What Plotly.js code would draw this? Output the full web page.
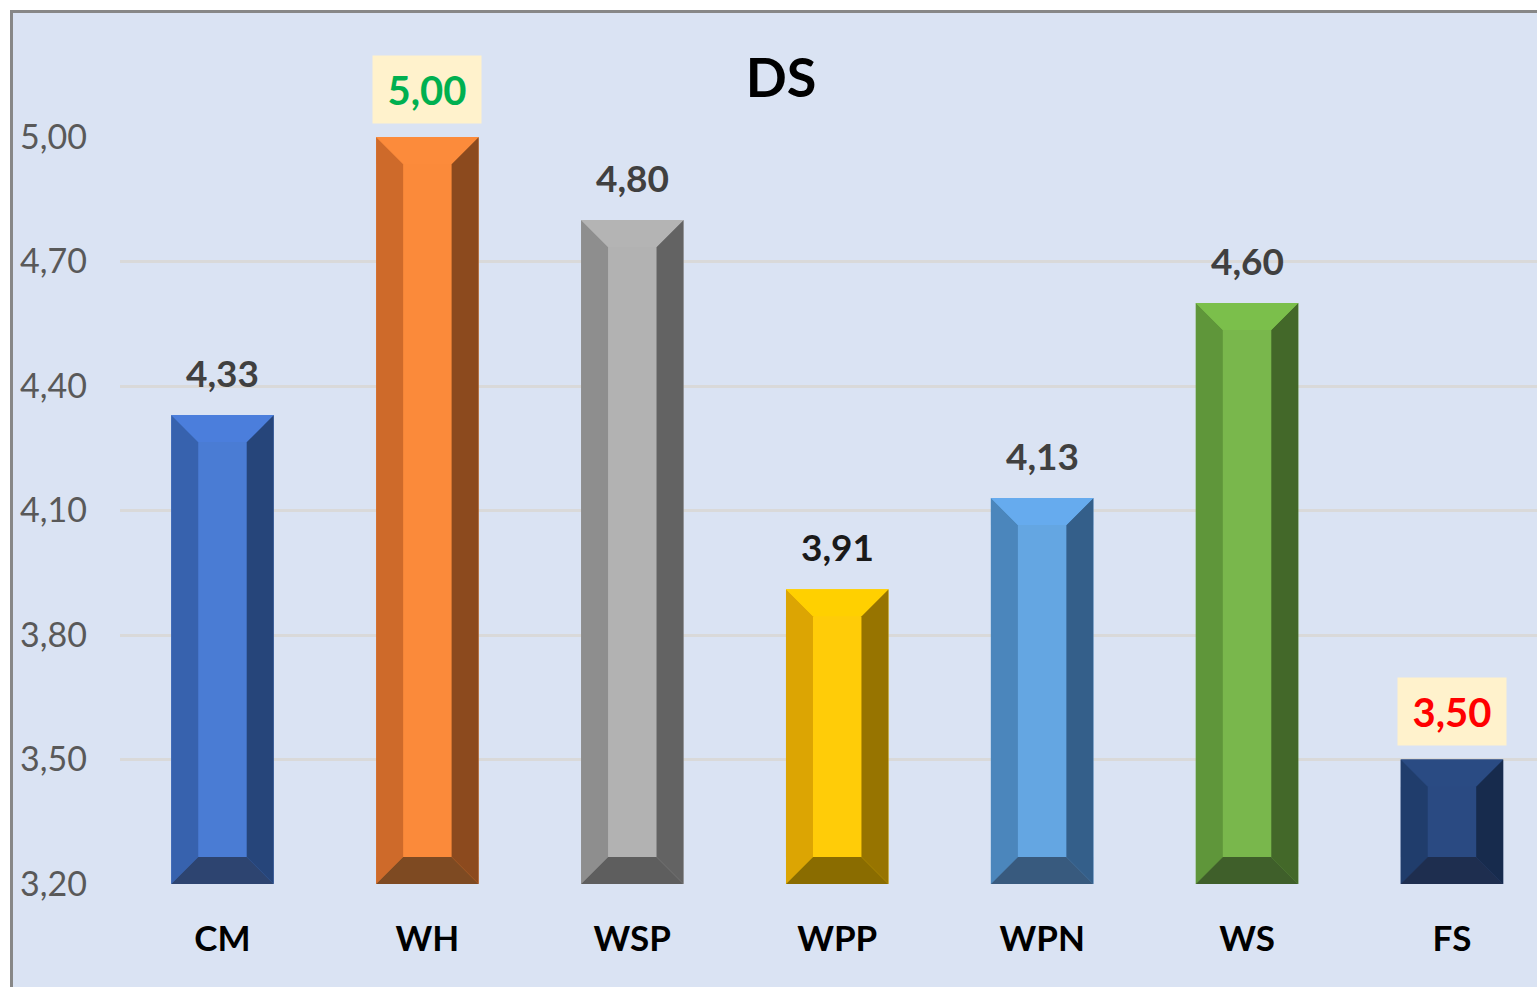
<!DOCTYPE html>
<html>
<head>
<meta charset="utf-8">
<script src="https://cdn.plot.ly/plotly-3.0.1.min.js"></script>
<style>
  html, body { margin: 0; padding: 0; background: #ffffff; width: 1537px; height: 987px; overflow: hidden; }
  #frame { position: absolute; left: 10px; top: 10px; width: 1527px; height: 977px;
           border-left: 3px solid #878787; border-top: 3px solid #878787; background: #DAE3F3; overflow: hidden; }
  #chart { width: 1524px; height: 974px; }
</style>
</head>
<body>
<div id="frame"><div id="chart"></div></div>
<script>
// ---- data ----
const categories = ["CM", "WH", "WSP", "WPP", "WPN", "WS", "FS"];
const values = [4.33, 5.00, 4.80, 3.91, 4.13, 4.60, 3.50];
const yTickVals = [3.20, 3.50, 3.80, 4.10, 4.40, 4.70, 5.00];
const yTickText = ["3,20", "3,50", "3,80", "4,10", "4,40", "4,70", "5,00"];
const chartTitle = "DS";

// ---- styles ----
const faceColors   = ["#4A7CD4", "#FB8A3A", "#B2B2B2", "#FFCC08", "#64A6E2", "#79B74C", "#2A4A82"];
const topColors    = ["#4B7EDC", "#FC8B3B", "#B4B4B4", "#FFD000", "#66ABEE", "#7BBF4B", "#2A4B83"];
const leftColors   = ["#3762AE", "#CE6A2A", "#8E8E8E", "#DCA503", "#4B86BC", "#5F963A", "#203D6C"];
const rightColors  = ["#26457A", "#8C4A1E", "#636363", "#977400", "#345F8A", "#436829", "#172B4D"];
const bottomColors = ["#2D4470", "#7E4A22", "#5E5E5E", "#8A6C00", "#385A7E", "#3F5F2A", "#1E2E4F"];
const labelColors  = ["#404040", "#00B050", "#404040", "#1A1A1A", "#404040", "#404040", "#FF0000"];
const labelBg      = [null, "#FFF2CC", null, null, null, null, "#FFF2CC"];

const W = 1524, H = 974;
const margin = {l: 106.5, r: 0, t: 124, b: 103};
const xRange = [-0.5, 6.415];
const yRange = [3.2, 5.0];
const barWidth = 0.5;
const bevelPx = 27;
const plotW = W - margin.l - margin.r;
const plotH = H - margin.t - margin.b;
const dx = bevelPx * (xRange[1] - xRange[0]) / plotW;
const dy = bevelPx * (yRange[1] - yRange[0]) / plotH;
const FONT = "Lato, 'Open Sans', 'DejaVu Sans', sans-serif";

const xIdx = categories.map((c, i) => i);
const traces = [{
  type: "bar", x: xIdx, y: values, width: barWidth,
  marker: {color: faceColors, line: {width: 0}},
  hoverinfo: "skip", showlegend: false
}];

function poly(xs, ys, color) {
  traces.push({type: "scatter", mode: "lines", x: xs.concat([xs[0]]), y: ys.concat([ys[0]]),
    fill: "toself", fillcolor: color, line: {width: 0, color: color},
    hoverinfo: "skip", showlegend: false});
}

values.forEach((v, i) => {
  const x0 = i - barWidth / 2, x1 = i + barWidth / 2;
  const y0 = yRange[0], y1 = v;
  poly([x0, x0, x0 + dx, x0 + dx], [y0, y1, y1 - dy, y0 + dy], leftColors[i]);
  poly([x1, x1, x1 - dx, x1 - dx], [y0, y1, y1 - dy, y0 + dy], rightColors[i]);
  poly([x0, x1, x1 - dx, x0 + dx], [y1, y1, y1 - dy, y1 - dy], topColors[i]);
  poly([x0, x1, x1 - dx, x0 + dx], [y0, y0, y0 + dy, y0 + dy], bottomColors[i]);
});

const annotations = values.map((v, i) => {
  const a = {
    x: i, y: v, xref: "x", yref: "y", showarrow: false,
    text: v.toFixed(2).replace(".", ","),
    font: {family: FONT, size: 37, color: labelColors[i], weight: "bold"},
    yanchor: "middle", yshift: 43
  };
  if (labelBg[i]) {
    a.bgcolor = labelBg[i]; a.borderpad = 12; a.width = 84; a.height = 43;
    a.font.size = 40; a.yshift = 48;
  }
  return a;
});

const layout = {
  width: W, height: H,
  margin: margin,
  paper_bgcolor: "#DAE3F3", plot_bgcolor: "#DAE3F3",
  title: {text: chartTitle, xref: "container", x: (781 - 13) / W, y: 1 - (78 - 13) / H,
          xanchor: "center", yanchor: "middle",
          font: {family: FONT, size: 54, color: "#000000", weight: "bold"}},
  xaxis: {range: xRange, tickvals: xIdx, ticktext: categories, showgrid: false, zeroline: false,
          showline: false, ticks: "", ticklabelstandoff: 31,
          tickfont: {family: FONT, size: 35, color: "#000000", weight: "bold"}, fixedrange: true},
  yaxis: {range: yRange, tickvals: yTickVals, ticktext: yTickText, showgrid: true,
          gridcolor: "#D9D9D9", gridwidth: 3, zeroline: false, showline: false, ticks: "",
          ticklabelstandoff: 32,
          tickfont: {family: FONT, size: 34, color: "#595959"}, fixedrange: true},
  bargap: 0.5,
  showlegend: false,
  annotations: annotations
};

Plotly.newPlot("chart", traces, layout, {displayModeBar: false, staticPlot: true});
</script>
</body>
</html>
